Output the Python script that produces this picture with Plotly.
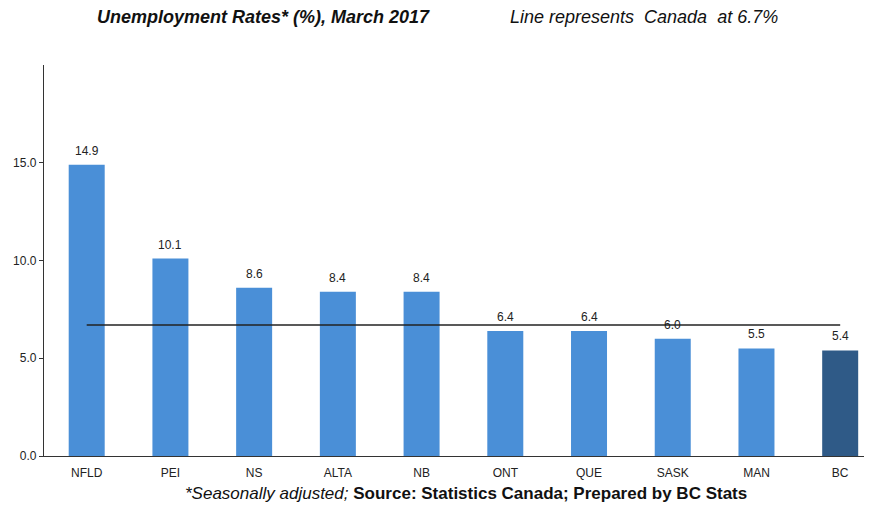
import plotly.graph_objects as go

provinces = ["NFLD", "PEI", "NS", "ALTA", "NB", "ONT", "QUE", "SASK", "MAN", "BC"]
rates = [14.9, 10.1, 8.6, 8.4, 8.4, 6.4, 6.4, 6.0, 5.5, 5.4]
canada_rate = 6.7
y_ticks = [0, 5, 10, 15]
y_tick_labels = ["0.0", "5.0", "10.0", "15.0"]

light = "#4a8fd7"
dark = "#2f5a87"
colors = [dark if p == "BC" else light for p in provinces]

FONT = "Liberation Sans, Arial"

fig = go.Figure()
fig.add_trace(go.Bar(
    x=list(range(len(provinces))), y=rates,
    marker=dict(color=colors, line=dict(width=0)),
    width=0.43, showlegend=False,
))
fig.add_trace(go.Scatter(
    x=[0, len(provinces) - 1], y=[canada_rate, canada_rate],
    mode="lines", line=dict(color="#222", width=1.4), showlegend=False,
))

value_labels = [
    dict(x=i, y=v, text=f"{v:.1f}", xref="x", yref="y", showarrow=False,
         yanchor="middle", yshift=14, font=dict(family=FONT, size=12, color="#222"))
    for i, v in enumerate(rates)
]

# page body has an 8px margin, so the figure is shrunk by 8px
fig.update_layout(
    width=864, height=498,
    margin=dict(l=36, r=0, t=57, b=50),
    paper_bgcolor="white", plot_bgcolor="white",
    font=dict(family=FONT, size=12, color="#222"),
    xaxis=dict(
        range=[-0.51, 9.38], tickmode="array",
        tickvals=list(range(len(provinces))), ticktext=provinces,
        showline=True, linecolor="#333", linewidth=1.3,
        showgrid=False, zeroline=False, ticks="", ticklen=0,
        ticklabelstandoff=5,
        tickfont=dict(size=12, color="#222"),
    ),
    yaxis=dict(
        range=[0, 20], tickmode="array", tickvals=y_ticks, ticktext=y_tick_labels,
        showline=True, linecolor="#333", linewidth=1.3,
        showgrid=False, zeroline=False, ticks="outside", ticklen=4, tickcolor="#333",
        tickfont=dict(size=12, color="#222"),
    ),
    annotations=value_labels + [
        dict(text="<b><i>Unemployment Rates* (%), March 2017</i></b>", xref="paper", yref="paper",
             x=(95 - 44) / 828, y=1, yshift=48, xanchor="left", yanchor="middle", showarrow=False,
             font=dict(size=18, color="#111")),
        dict(text="<i>Line represents  Canada  at 6.7%</i>", xref="paper", yref="paper",
             x=(508 - 44) / 828, y=1, yshift=48, xanchor="left", yanchor="middle", showarrow=False,
             font=dict(size=18, color="#111")),
        dict(text="<i>*Seasonally adjusted;</i> <b>Source: Statistics Canada; Prepared by BC Stats</b>",
             xref="paper", yref="paper", x=(466 - 44) / 828, y=0, yshift=-37,
             xanchor="center", yanchor="middle", showarrow=False,
             font=dict(size=17, color="#111")),
    ],
)

fig.write_html("out.html")
